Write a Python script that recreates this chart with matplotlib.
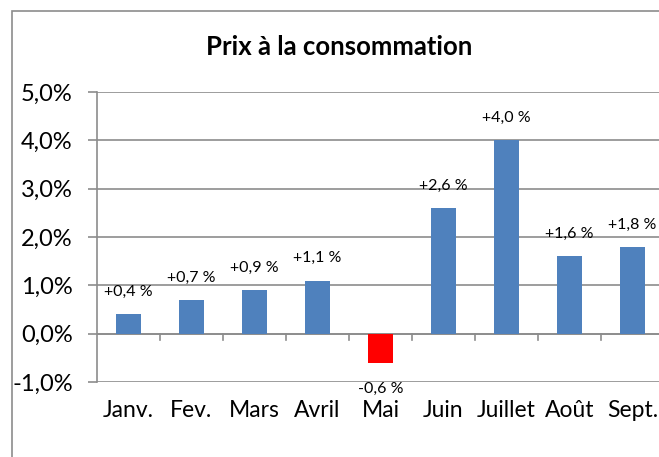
import matplotlib.pyplot as plt
from matplotlib.patches import Rectangle
from matplotlib.ticker import FuncFormatter, MultipleLocator

plt.rcParams['font.family'] = ['Lato', 'DejaVu Sans']

# donnees
mois = ["Janv.", "Fev.", "Mars", "Avril", "Mai", "Juin", "Juillet", "Août", "Sept."]
valeurs = [0.4, 0.7, 0.9, 1.1, -0.6, 2.6, 4.0, 1.6, 1.8]
etiquettes = ["+0,4 %", "+0,7 %", "+0,9 %", "+1,1 %", "-0,6 %", "+2,6 %", "+4,0 %", "+1,6 %", "+1,8 %"]

bleu = "#4F81BD"
rouge = "#FF0000"
gris = "#8C8C8C"

W, H = 659, 457
fig = plt.figure(figsize=(W / 100, H / 100), dpi=100)

# cadre du graphique (coupe a droite et en bas)
fig.patches.append(Rectangle((12 / W, -0.05), 1.2, 1 - 11 / H + 0.05,
                             transform=fig.transFigure, fill=False,
                             edgecolor=gris, linewidth=1.2))

# axes : x de 97 a 664 px, y de 92 (5%) a 382 (-1%)
ax = fig.add_axes([97 / W, 1 - 382 / H, 567 / W, 290 / H])

x = range(len(mois))
couleurs = [rouge if v < 0 else bleu for v in valeurs]
ax.bar(x, valeurs, width=0.4, color=couleurs, zorder=3)

for i, (v, t) in enumerate(zip(valeurs, etiquettes)):
    if v >= 0:
        ax.annotate(t, (i, v), xytext=(0, 16), textcoords="offset points",
                    ha="center", va="center", fontsize=11.5)
    else:
        ax.annotate(t, (i, v), xytext=(0, -19), textcoords="offset points",
                    ha="center", va="center", fontsize=11.5)

ax.set_xlim(-0.5, len(mois) - 0.5)
ax.set_ylim(-1, 5)
ax.yaxis.set_major_locator(MultipleLocator(1))
ax.yaxis.set_major_formatter(FuncFormatter(lambda v, p: f"{v:.1f}%".replace(".", ",")))
ax.grid(axis="y", color=gris, linewidth=1.2, zorder=0)

for s in ["top", "right", "bottom"]:
    ax.spines[s].set_visible(False)
ax.spines["left"].set_color(gris)
ax.spines["left"].set_linewidth(1.2)

# ligne du zero avec graduations entre categories
ax.axhline(0, color=gris, linewidth=1.2, zorder=2)
for b in range(1, len(mois)):
    ax.plot([b - 0.5, b - 0.5], [0, -0.14], color=gris, linewidth=1.2, zorder=2, clip_on=False)

ax.tick_params(axis="y", length=6.5, width=1.2, color=gris, labelsize=17, pad=11)
ax.set_xticks(list(x))
ax.set_xticklabels(mois, fontsize=16.5)
ax.tick_params(axis="x", length=0, pad=13)

fig.text(339 / W, 1 - 47 / H, "Prix à la consommation", ha="center", va="center",
         fontsize=18.5, fontweight="bold")

fig.savefig("out.png", dpi=100)
